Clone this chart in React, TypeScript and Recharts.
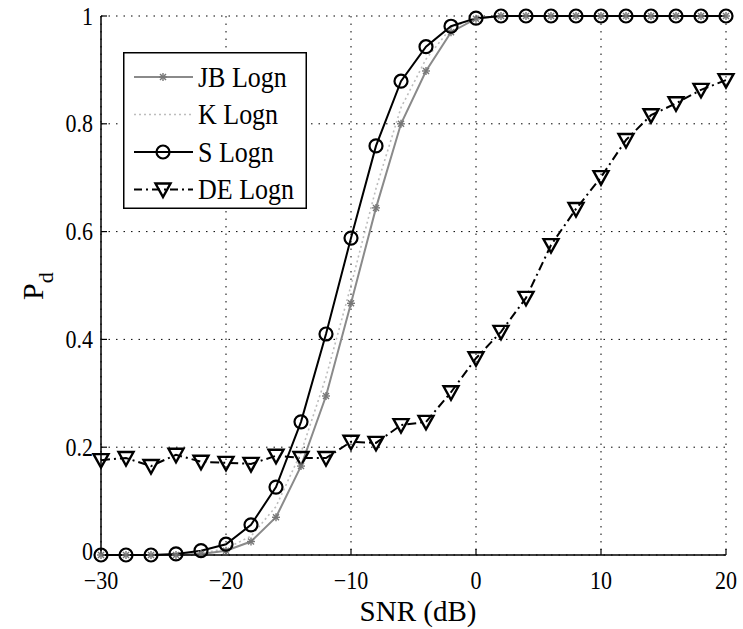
import { LineChart, Line, XAxis, YAxis, CartesianGrid, Legend } from 'recharts';

const snr = [-30, -28, -26, -24, -22, -20, -18, -16, -14, -12, -10, -8, -6, -4, -2, 0, 2, 4, 6, 8, 10, 12, 14, 16, 18, 20];
const jbLogn = [0, 0, 0, 0, 0.002, 0.008, 0.025, 0.07, 0.165, 0.295, 0.467, 0.644, 0.8, 0.898, 0.97, 0.995, 1, 1, 1, 1, 1, 1, 1, 1, 1, 1];
const kLogn = [0, 0, 0, 0, 0.003, 0.012, 0.035, 0.09, 0.19, 0.33, 0.5, 0.68, 0.83, 0.92, 0.978, 0.997, 1, 1, 1, 1, 1, 1, 1, 1, 1, 1];
const sLogn = [0, 0, 0, 0.002, 0.008, 0.02, 0.056, 0.126, 0.247, 0.41, 0.588, 0.759, 0.879, 0.943, 0.981, 0.996, 1, 1, 1, 1, 1, 1, 1, 1, 1, 1];
const deLogn = [0.176, 0.18, 0.165, 0.186, 0.173, 0.171, 0.169, 0.184, 0.18, 0.18, 0.21, 0.208, 0.241, 0.247, 0.302, 0.365, 0.414, 0.477, 0.575, 0.642, 0.701, 0.77, 0.816, 0.838, 0.863, 0.881];

const xTicks = [-30, -20, -10, 0, 10, 20];
const yTicks = [0, 0.2, 0.4, 0.6, 0.8, 1];
const legendNames = ['JB Logn', 'K Logn', 'S Logn', 'DE Logn'];

const data = snr.map((x, i) => ({ snr: x, jb: jbLogn[i], k: kLogn[i], s: sLogn[i], de: deLogn[i] }));

const FONT = "'Liberation Serif', 'Times New Roman', 'DejaVu Serif', serif";
const txt = { fontFamily: FONT };

const fmt = (v: number) => (v < 0 ? '\u2212' + Math.abs(v) : String(v));

function Circle({ cx, cy }: any) {
  if (cx == null || cy == null) return null;
  return <circle cx={cx} cy={cy} r={6.5} fill="none" stroke="#000" strokeWidth={2.2} />;
}

function Tri({ cx, cy }: any) {
  if (cx == null || cy == null) return null;
  return (
    <path
      d={`M${cx - 7.5},${cy - 6} L${cx + 7.5},${cy - 6} L${cx},${cy + 7.5} Z`}
      fill="none"
      stroke="#000"
      strokeWidth={2.4}
    />
  );
}

function Star({ cx, cy }: any) {
  if (cx == null || cy == null) return null;
  const r = 4;
  return (
    <g stroke="#777" strokeWidth={1.4}>
      <line x1={cx - r} y1={cy} x2={cx + r} y2={cy} />
      <line x1={cx} y1={cy - r} x2={cx} y2={cy + r} />
      <line x1={cx - 3} y1={cy - 3} x2={cx + 3} y2={cy + 3} />
      <line x1={cx - 3} y1={cy + 3} x2={cx + 3} y2={cy - 3} />
    </g>
  );
}

function XTick({ x, y, payload }: any) {
  return (
    <g transform={`translate(${x},${y}) scale(1,1.15)`}>
      <text x={0} y={0} textAnchor="middle" style={txt} fontSize={22} fill="#000">
        {fmt(payload.value)}
      </text>
    </g>
  );
}

function YTick({ x, y, payload }: any) {
  // the bottom "0" sits just above the "-30" of the x axis, nudge it up a little
  const dy = payload.value === 0 ? 4.5 : 7.5;
  return (
    <g transform={`translate(${x},${y}) scale(1,1.15)`}>
      <text x={0} y={dy} textAnchor="end" style={txt} fontSize={22} fill="#000">
        {payload.value}
      </text>
    </g>
  );
}

function LegendBox() {
  const rows = [
    { stroke: '#8a8a8a', dash: undefined, width: 2, marker: 'star' },
    { stroke: '#bdbdbd', dash: '2 3', width: 1.6, marker: '' },
    { stroke: '#000', dash: undefined, width: 2, marker: 'circle' },
    { stroke: '#000', dash: '8 4 2 4', width: 2, marker: 'tri' },
  ];
  return (
    <svg width={184} height={157} style={{ display: 'block' }}>
      <rect x={0.75} y={0.75} width={182.5} height={155.5} fill="#fff" stroke="#000" strokeWidth={1.5} />
      {rows.map((r, i) => {
        const cy = 25 + i * 37.5;
        return (
          <g key={legendNames[i]}>
            <line x1={11} y1={cy} x2={70} y2={cy} stroke={r.stroke} strokeWidth={r.width} strokeDasharray={r.dash} />
            {r.marker === 'star' && <Star cx={40} cy={cy} />}
            {r.marker === 'circle' && <Circle cx={40} cy={cy} />}
            {r.marker === 'tri' && <Tri cx={40} cy={cy} />}
            <g transform={`translate(75,${cy}) scale(1,1.15)`}>
              <text x={0} y={8.5} style={txt} fontSize={26} fill="#000">
                {legendNames[i]}
              </text>
            </g>
          </g>
        );
      })}
    </svg>
  );
}

export default function App() {
  return (
    <div style={{ position: 'absolute', left: 0, top: 0, width: 743, height: 629, background: '#fff' }}>
      <LineChart width={743} height={629} data={data} margin={{ top: 16, right: 17, left: 0, bottom: 0 }}>
        <CartesianGrid stroke="#000" strokeWidth={1} strokeDasharray="1.5 6" />
        <XAxis
          dataKey="snr"
          type="number"
          domain={[-30, 20]}
          ticks={xTicks}
          height={74}
          axisLine={{ stroke: '#000', strokeWidth: 1.5 }}
          tickLine={{ stroke: '#000', strokeWidth: 1.2 }}
          tickSize={-6}
          tickMargin={40}
          tick={<XTick />}
          interval={0}
          label={{
            content: () => (
              <text x={418} y={621} textAnchor="middle" style={txt} fontSize={29} fill="#000">
                SNR (dB)
              </text>
            ),
          }}
        />
        <XAxis
          xAxisId="top"
          orientation="top"
          type="number"
          domain={[-30, 20]}
          ticks={xTicks}
          height={0}
          axisLine={{ stroke: '#000', strokeWidth: 1.5 }}
          tickLine={{ stroke: '#000', strokeWidth: 1.2 }}
          tickSize={-6}
          tick={false}
        />
        <YAxis
          type="number"
          domain={[0, 1]}
          ticks={yTicks}
          width={101}
          axisLine={{ stroke: '#000', strokeWidth: 1.5 }}
          tickLine={{ stroke: '#000', strokeWidth: 1.2 }}
          tickSize={-6}
          tickMargin={14}
          tick={<YTick />}
          interval={0}
          label={{
            content: () => (
              <g transform="rotate(-90, 43, 300)">
                <text x={43} y={300} style={txt} fontSize={30} fill="#000">
                  P
                  <tspan fontSize={22} dy={10}>
                    d
                  </tspan>
                </text>
              </g>
            ),
          }}
        />
        <YAxis
          yAxisId="right"
          orientation="right"
          type="number"
          domain={[0, 1]}
          ticks={yTicks}
          width={0}
          axisLine={{ stroke: '#000', strokeWidth: 1.5 }}
          tickLine={{ stroke: '#000', strokeWidth: 1.2 }}
          tickSize={-6}
          tick={false}
        />
        <Legend
          verticalAlign="middle"
          align="center"
          layout="vertical"
          wrapperStyle={{ left: 123, top: 52, width: 184, height: 157 }}
          content={() => <LegendBox />}
        />
        <Line
          type="linear"
          dataKey="de"
          name={legendNames[3]}
          stroke="#000"
          strokeWidth={2}
          strokeDasharray="9 4 2 4"
          dot={<Tri />}
          isAnimationActive={false}
        />
        <Line
          type="linear"
          dataKey="k"
          name={legendNames[1]}
          stroke="#bdbdbd"
          strokeWidth={1.6}
          strokeDasharray="2 3"
          dot={false}
          isAnimationActive={false}
        />
        <Line
          type="linear"
          dataKey="jb"
          name={legendNames[0]}
          stroke="#8a8a8a"
          strokeWidth={2}
          dot={<Star />}
          isAnimationActive={false}
        />
        <Line
          type="linear"
          dataKey="s"
          name={legendNames[2]}
          stroke="#000"
          strokeWidth={2}
          dot={<Circle />}
          isAnimationActive={false}
        />
      </LineChart>
    </div>
  );
}
